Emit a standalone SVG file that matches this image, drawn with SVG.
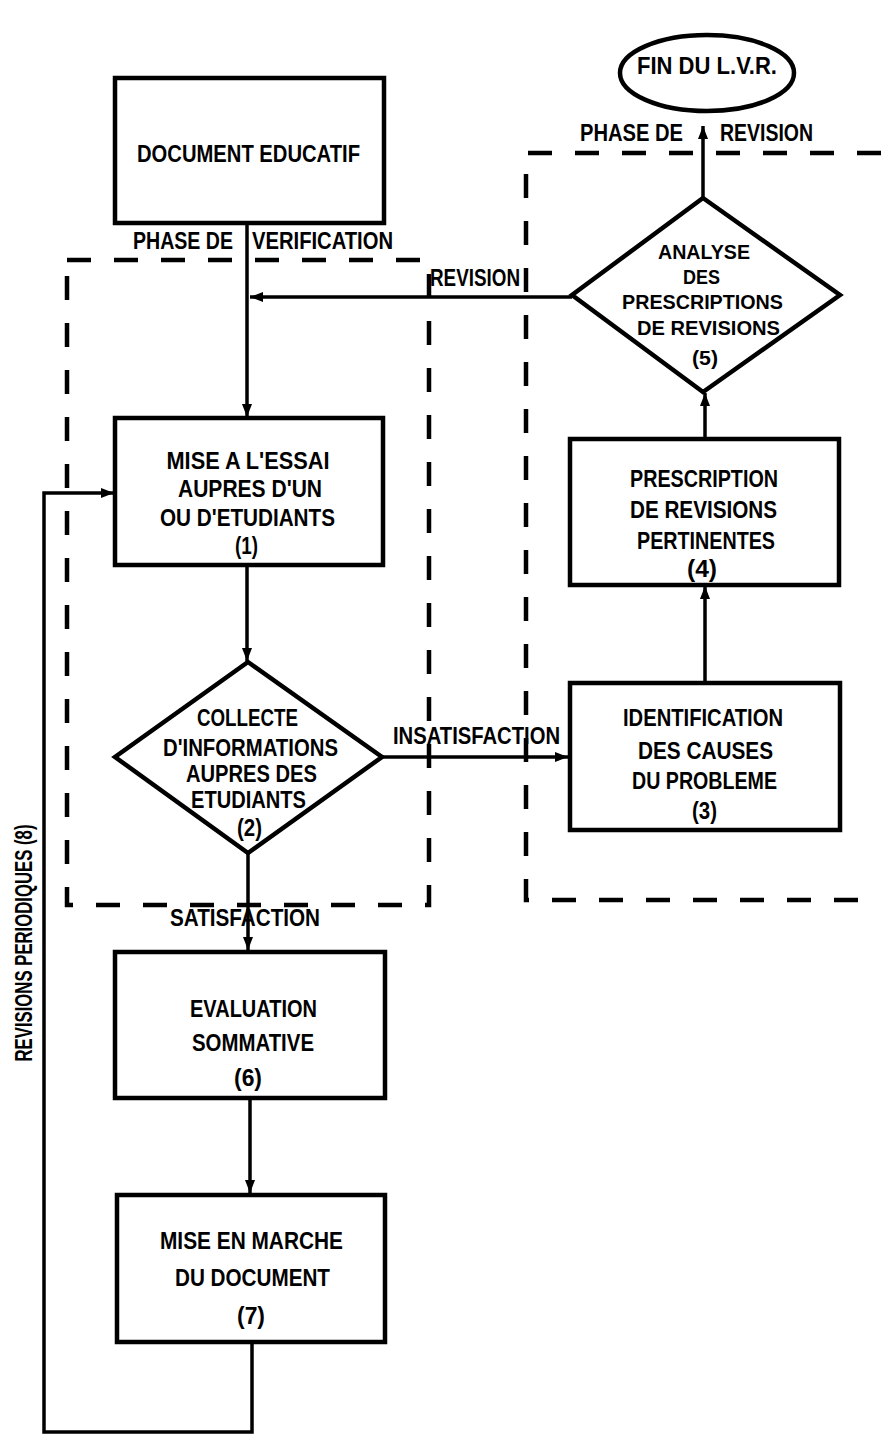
<svg xmlns="http://www.w3.org/2000/svg" width="881" height="1435" viewBox="0 0 881 1435">
<style>
.box{fill:#fff;stroke:#000;stroke-width:4.5}
.conn{stroke:#000;stroke-width:3.5;fill:none}
.dash{stroke:#000;stroke-width:4.5;stroke-dasharray:24 23;fill:none}
.t{font-family:"Liberation Sans",Arial,sans-serif;font-weight:bold;font-size:24px;text-anchor:middle;fill:#000}
.s{font-size:20px}
</style>
<defs>
<marker id="ah" markerUnits="userSpaceOnUse" markerWidth="13" markerHeight="10" refX="13" refY="5" orient="auto">
<path d="M0,0 L13,5 L0,10 z" fill="#000"/>
</marker>
</defs>
<rect width="881" height="1435" fill="#fff"/>
<g id="phases">
<rect class="dash" x="67" y="260" width="362" height="645"/>
<path class="dash" d="M881,153 H526 V900 H881"/>
<text class="t" x="183" y="249" textLength="100" lengthAdjust="spacingAndGlyphs">PHASE DE</text>
<text class="t" x="322.5" y="249" textLength="141" lengthAdjust="spacingAndGlyphs">VERIFICATION</text>
<text class="t" x="631.5" y="141" textLength="103" lengthAdjust="spacingAndGlyphs">PHASE DE</text>
<text class="t" x="766.5" y="141" textLength="93" lengthAdjust="spacingAndGlyphs">REVISION</text>
</g>
<g id="connectors">
<line class="conn" x1="247" y1="223" x2="247" y2="417" marker-end="url(#ah)"/>
<line class="conn" x1="247" y1="565" x2="247" y2="661" marker-end="url(#ah)"/>
<line class="conn" x1="248" y1="853" x2="248" y2="950" marker-end="url(#ah)"/>
<line class="conn" x1="250" y1="1098" x2="250" y2="1193" marker-end="url(#ah)"/>
<path class="conn" d="M252,1342 V1432 H44 V493 H114" marker-end="url(#ah)"/>
<line class="conn" x1="382" y1="757" x2="568" y2="757" marker-end="url(#ah)"/>
<line class="conn" x1="705" y1="683" x2="705" y2="586" marker-end="url(#ah)"/>
<line class="conn" x1="705" y1="439" x2="705" y2="393" marker-end="url(#ah)"/>
<line class="conn" x1="703" y1="198" x2="703" y2="126" marker-end="url(#ah)"/>
<line class="conn" x1="572" y1="297" x2="250" y2="297" marker-end="url(#ah)"/>
<text class="t" x="475" y="286" textLength="90" lengthAdjust="spacingAndGlyphs">REVISION</text>
<text class="t" x="476.5" y="744" textLength="167" lengthAdjust="spacingAndGlyphs">INSATISFACTION</text>
<text class="t" x="245" y="926" textLength="150" lengthAdjust="spacingAndGlyphs">SATISFACTION</text>
<text class="t" transform="translate(32,943) rotate(-90)" textLength="237" lengthAdjust="spacingAndGlyphs">REVISIONS PERIODIQUES (8)</text>
</g>
<g id="fin">
<ellipse cx="707" cy="73" rx="87" ry="38" fill="#fff" stroke="#000" stroke-width="4.5"/>
<text class="t" x="707" y="74" textLength="140" lengthAdjust="spacingAndGlyphs">FIN DU L.V.R.</text>
</g>
<g id="doc">
<rect class="box" x="115" y="78" width="269" height="145"/>
<text class="t" x="248.5" y="162" textLength="223" lengthAdjust="spacingAndGlyphs">DOCUMENT EDUCATIF</text>
</g>
<g id="n1">
<rect class="box" x="115" y="418" width="268" height="147"/>
<text class="t" x="248" y="469" textLength="163" lengthAdjust="spacingAndGlyphs">MISE A L'ESSAI</text>
<text class="t" x="250" y="497" textLength="144" lengthAdjust="spacingAndGlyphs">AUPRES D'UN</text>
<text class="t" x="247.5" y="526" textLength="175" lengthAdjust="spacingAndGlyphs">OU D'ETUDIANTS</text>
<text class="t" x="246.5" y="554" textLength="23" lengthAdjust="spacingAndGlyphs">(1)</text>
</g>
<g id="n2">
<polygon class="box" points="248,662 382,757 248,853 115,757"/>
<text class="t" x="247.5" y="726" textLength="101" lengthAdjust="spacingAndGlyphs">COLLECTE</text>
<text class="t" x="250.5" y="756" textLength="175" lengthAdjust="spacingAndGlyphs">D'INFORMATIONS</text>
<text class="t" x="251.5" y="782" textLength="131" lengthAdjust="spacingAndGlyphs">AUPRES DES</text>
<text class="t" x="248.5" y="808" textLength="115" lengthAdjust="spacingAndGlyphs">ETUDIANTS</text>
<text class="t" x="249.5" y="836" textLength="25" lengthAdjust="spacingAndGlyphs">(2)</text>
</g>
<g id="n3">
<rect class="box" x="570" y="683" width="270" height="147"/>
<text class="t" x="703" y="726" textLength="160" lengthAdjust="spacingAndGlyphs">IDENTIFICATION</text>
<text class="t" x="705.5" y="759" textLength="135" lengthAdjust="spacingAndGlyphs">DES CAUSES</text>
<text class="t" x="704.5" y="789" textLength="145" lengthAdjust="spacingAndGlyphs">DU PROBLEME</text>
<text class="t" x="704.5" y="819" textLength="25" lengthAdjust="spacingAndGlyphs">(3)</text>
</g>
<g id="n4">
<rect class="box" x="570" y="439" width="269" height="146"/>
<text class="t" x="704" y="487" textLength="148" lengthAdjust="spacingAndGlyphs">PRESCRIPTION</text>
<text class="t" x="703.5" y="518" textLength="147" lengthAdjust="spacingAndGlyphs">DE REVISIONS</text>
<text class="t" x="706" y="549" textLength="138" lengthAdjust="spacingAndGlyphs">PERTINENTES</text>
<text class="t" x="702" y="577" textLength="30" lengthAdjust="spacingAndGlyphs">(4)</text>
</g>
<g id="n5">
<polygon class="box" points="703,198 840,295 703,392 572,295"/>
<text class="t s" x="704" y="259" textLength="92" lengthAdjust="spacingAndGlyphs">ANALYSE</text>
<text class="t s" x="701.5" y="284" textLength="37" lengthAdjust="spacingAndGlyphs">DES</text>
<text class="t s" x="702.5" y="309" textLength="161" lengthAdjust="spacingAndGlyphs">PRESCRIPTIONS</text>
<text class="t s" x="708.5" y="335" textLength="143" lengthAdjust="spacingAndGlyphs">DE REVISIONS</text>
<text class="t s" x="705" y="365" textLength="26" lengthAdjust="spacingAndGlyphs">(5)</text>
</g>
<g id="n6">
<rect class="box" x="115" y="952" width="270" height="146"/>
<text class="t" x="253.5" y="1017" textLength="127" lengthAdjust="spacingAndGlyphs">EVALUATION</text>
<text class="t" x="253" y="1051" textLength="122" lengthAdjust="spacingAndGlyphs">SOMMATIVE</text>
<text class="t" x="248" y="1086" textLength="28" lengthAdjust="spacingAndGlyphs">(6)</text>
</g>
<g id="n7">
<rect class="box" x="117" y="1195" width="268" height="147"/>
<text class="t" x="251.5" y="1249" textLength="183" lengthAdjust="spacingAndGlyphs">MISE EN MARCHE</text>
<text class="t" x="252.5" y="1286" textLength="155" lengthAdjust="spacingAndGlyphs">DU DOCUMENT</text>
<text class="t" x="251" y="1324" textLength="28" lengthAdjust="spacingAndGlyphs">(7)</text>
</g>
</svg>
